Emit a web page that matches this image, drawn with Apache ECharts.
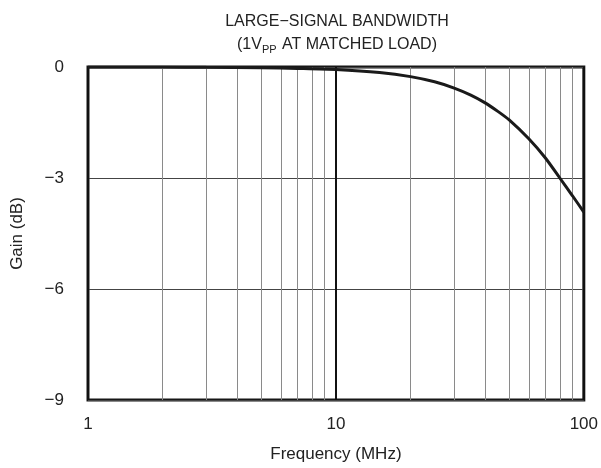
<!DOCTYPE html>
<html><head><meta charset="utf-8">
<script src="https://cdn.jsdelivr.net/npm/echarts@6/dist/echarts.min.js"></script>
<style>html,body{margin:0;padding:0;background:#fff}#c{width:601px;height:468px}</style>
</head><body><div id="c"></div>
<script>
const freqMHz = [1, 2, 3, 5, 7, 10, 15, 20, 25, 30, 35, 40, 45, 50, 60, 70, 80, 90, 100];
const gainDb  = [0, 0, -0.01, -0.02, -0.04, -0.07, -0.15, -0.26, -0.4, -0.57, -0.76, -0.97, -1.2, -1.43, -1.94, -2.46, -3.0, -3.48, -3.92];
const minorGridX = [2, 3, 4, 5, 6, 7, 8, 9, 20, 30, 40, 50, 60, 70, 80, 90];
const yTicks = [0, -3, -6, -9];
const xTicks = [1, 10, 100];

const chart = echarts.init(document.getElementById('c'), null, {renderer: 'canvas'});
const font = '"Liberation Sans", Arial, sans-serif';
const txt = '#222';
chart.setOption({
  animation: false,
  backgroundColor: '#fff',
  title: {
    text: 'LARGE\u2212SIGNAL BANDWIDTH\n{a|(1V}{s|PP}{a| AT MATCHED LOAD)}',
    left: 332, top: 5, textAlign: 'center',
    textStyle: {
      fontFamily: font, fontSize: 16, fontWeight: 'normal', color: txt, lineHeight: 23,
      rich: {
        a: {fontFamily: font, fontSize: 16, color: txt, lineHeight: 23},
        s: {fontFamily: font, fontSize: 11, color: txt, lineHeight: 23, padding: [10, 1, 0, 0]}
      }
    }
  },
  grid: {left: 88, right: 16, top: 67, bottom: 66, show: true, borderColor: '#161616', borderWidth: 3, backgroundColor: 'transparent'},
  xAxis: {
    type: 'log', logBase: 10, min: 1, max: 100,
    name: 'Frequency (MHz)', nameLocation: 'middle', nameGap: 46,
    nameTextStyle: {fontFamily: font, fontSize: 17, color: txt},
    axisLine: {show: false}, axisTick: {show: false},
    axisLabel: {fontFamily: font, fontSize: 17, color: txt, margin: 16,
      formatter: v => xTicks.includes(Math.round(v)) ? String(Math.round(v)) : ''},
    splitLine: {show: true, lineStyle: {color: '#111', width: 2}}
  },
  yAxis: {
    type: 'value', min: -9, max: 0, interval: 3,
    name: 'Gain (dB)', nameLocation: 'middle', nameGap: 62,
    nameTextStyle: {fontFamily: font, fontSize: 17, color: txt},
    axisLine: {show: false}, axisTick: {show: false},
    axisLabel: {fontFamily: font, fontSize: 17, color: txt, margin: 24,
      formatter: v => yTicks.includes(v) ? (v < 0 ? '\u2212' + Math.abs(v) : String(v)) : ''},
    splitLine: {show: true, lineStyle: {color: '#444', width: 1.2}}
  },
  series: [{
    type: 'line',
    data: freqMHz.map((f, i) => [f, gainDb[i]]),
    smooth: 0.25, showSymbol: false,
    lineStyle: {color: '#1a1a1a', width: 3},
    z: 5,
    markLine: {
      silent: true, symbol: 'none', label: {show: false},
      lineStyle: {color: '#8a8a8a', width: 1, type: 'solid'},
      data: minorGridX.map(v => ({xAxis: v}))
    }
  }]
});
</script></body></html>
